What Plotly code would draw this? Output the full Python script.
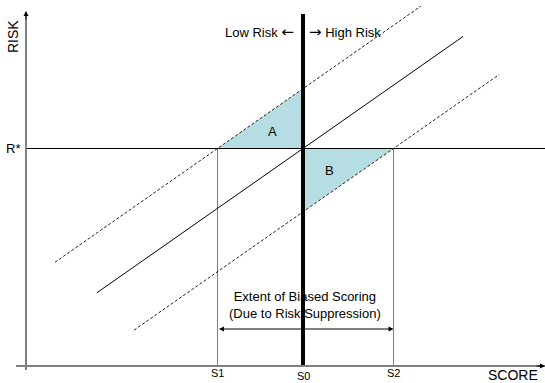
import plotly.graph_objects as go

# ---- data (score units horizontally, risk units vertically) ----
score_labels = ["S1", "S0", "S2"]
score_vals = [217.5, 303, 393.5]
r_star = 234.5
slope = 0.7
solid_x = [97, 463]      # fitted line extent (through S0, R*)
upper_x = [55, 421]      # upper dashed band (through S1, R*)
lower_x = [134, 499]     # lower dashed band (through S2, R*)
x_axis_range = [16, 545]
y_axis_range = [13, 371]
divider_top = 369

S1, S0, S2 = score_vals
X_AXIS_Y = 17


def band(anchor, xs):
    return [r_star + slope * (x - anchor) for x in xs]


FONT = "Liberation Sans, Arial, sans-serif"
GRAY = "#808080"
FILL = "#b6dde1"

fig = go.Figure()

# shaded triangles A and B
ax_ = [S1, S0, S0, S1]
ay_ = [r_star, r_star, band(S1, [S0])[0], r_star]
fig.add_trace(go.Scatter(x=ax_, y=ay_, fill="toself", fillcolor=FILL,
                         line=dict(width=0), mode="lines", hoverinfo="skip"))
bx_ = [S0, S2, S0, S0]
by_ = [r_star, r_star, band(S2, [S0])[0], r_star]
fig.add_trace(go.Scatter(x=bx_, y=by_, fill="toself", fillcolor=FILL,
                         line=dict(width=0), mode="lines", hoverinfo="skip"))

# S1 / S2 drop lines
for s in (S1, S2):
    fig.add_trace(go.Scatter(x=[s, s], y=[r_star, X_AXIS_Y], mode="lines",
                             line=dict(color=GRAY, width=1), hoverinfo="skip"))

# R* horizontal
fig.add_trace(go.Scatter(x=[26, 545], y=[r_star, r_star], mode="lines",
                         line=dict(color="black", width=1), hoverinfo="skip"))

# diagonal lines
fig.add_trace(go.Scatter(x=solid_x, y=band(S0, solid_x), mode="lines",
                         line=dict(color="black", width=1), hoverinfo="skip"))
fig.add_trace(go.Scatter(x=upper_x, y=band(S1, upper_x), mode="lines",
                         line=dict(color="#222222", width=1, dash="3px,2px"), hoverinfo="skip"))
fig.add_trace(go.Scatter(x=lower_x, y=band(S2, lower_x), mode="lines",
                         line=dict(color="#222222", width=1, dash="3px,2px"), hoverinfo="skip"))

# thick divider at S0
fig.add_trace(go.Scatter(x=[S0, S0], y=[X_AXIS_Y, divider_top], mode="lines",
                         line=dict(color="black", width=4), hoverinfo="skip"))

# axes
fig.add_trace(go.Scatter(x=x_axis_range, y=[X_AXIS_Y, X_AXIS_Y], mode="lines",
                         line=dict(color=GRAY, width=2), hoverinfo="skip"))
fig.add_trace(go.Scatter(x=[26, 26], y=y_axis_range, mode="lines",
                         line=dict(color=GRAY, width=2), hoverinfo="skip"))

ann = []
# axis arrowheads
ann.append(dict(x=545, y=X_AXIS_Y, ax=535, ay=X_AXIS_Y, xref="x", yref="y", axref="x", ayref="y",
                showarrow=True, arrowhead=2, arrowsize=1, arrowwidth=1, arrowcolor="black", text=""))
ann.append(dict(x=26, y=372, ax=26, ay=362, xref="x", yref="y", axref="x", ayref="y",
                showarrow=True, arrowhead=2, arrowsize=1, arrowwidth=1, arrowcolor="black", text=""))
# double arrow
ann.append(dict(x=S2, y=54, ax=S1, ay=54, xref="x", yref="y", axref="x", ayref="y",
                showarrow=True, arrowhead=2, startarrowhead=2, arrowside="end+start",
                arrowsize=1, startarrowsize=1, arrowwidth=1, arrowcolor="black", text=""))


def txt(x, y, t, size=13, xanchor="center", angle=0):
    ann.append(dict(x=x, y=y, xref="x", yref="y", text=t, showarrow=False,
                    xanchor=xanchor, yanchor="middle", textangle=angle,
                    font=dict(family=FONT, size=size, color="black")))


ARROW_STYLE = "font-family:DejaVu Sans;font-size:15px"
txt(13, 346, "RISK", size=14, angle=-90)
txt(13, 235, "R*", size=13)
txt(296, 351, f"Low Risk <span style='{ARROW_STYLE}'>←</span>", size=13, xanchor="right")
txt(307, 351, f"<span style='{ARROW_STYLE}'>→</span> High Risk", size=13, xanchor="left")
txt(272, 252, "A", size=13)
txt(329, 213, "B", size=13)
txt(305, 78, "Extent of Biased Scoring<br>(Due to Risk Suppression)", size=13)
for lab, v, yy in zip(score_labels, score_vals, [10, 7, 10]):
    txt(v, yy, lab, size=11)
txt(513, 8, "SCORE", size=14)

fig.update_layout(
    width=545, height=383, margin=dict(l=0, r=0, t=0, b=0),
    paper_bgcolor="white", plot_bgcolor="white", showlegend=False,
    xaxis=dict(range=[0, 545], visible=False, fixedrange=True),
    yaxis=dict(range=[0, 383], visible=False, fixedrange=True),
    annotations=ann,
)
fig.write_html("out.html", config={"displayModeBar": False},
               post_script="document.body.style.margin='0';document.body.style.overflow='hidden';")
